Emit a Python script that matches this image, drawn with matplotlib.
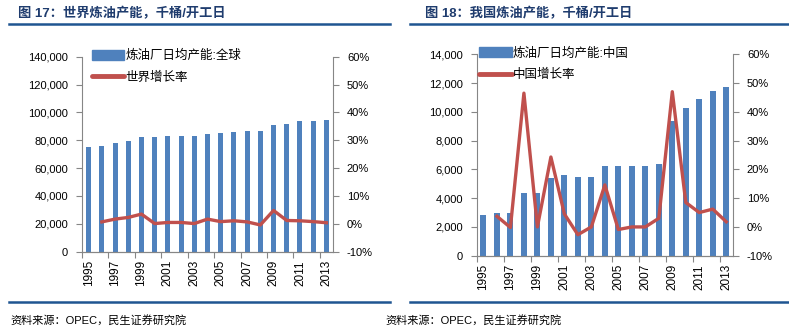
import numpy as np
import matplotlib.pyplot as plt
from matplotlib.lines import Line2D
from matplotlib.ticker import FuncFormatter, FixedLocator

plt.rcParams['font.family'] = ['Liberation Sans', 'Noto Sans CJK SC']

years = [str(y) for y in range(1995, 2014)]

# 世界炼油产能（千桶/开工日）及增长率（%）
world_capacity = [75500, 76200, 77800, 79600, 82000, 82000, 82800, 82800, 82800,
                  84600, 85300, 86200, 86900, 86900, 91000, 92000, 93700, 93700, 94500]
world_growth = [np.nan, 0.7, 1.7, 2.3, 3.5, 0.1, 0.5, 0.5, 0.1,
                1.7, 0.8, 1.1, 0.7, -0.4, 4.8, 1.2, 1.1, 0.8, 0.4]

# 中国炼油产能（千桶/开工日）及增长率（%）
china_capacity = [2850, 2990, 2990, 4330, 4330, 5370, 5600, 5440, 5440,
                  6250, 6250, 6250, 6250, 6390, 9380, 10300, 10860, 11480, 11740]
china_growth = [np.nan, 3.7, -0.2, 46.5, 0.0, 24.3, 4.5, -2.7, 0.0,
                14.6, -0.9, 0.0, 0.0, 3.0, 47.0, 8.5, 5.0, 6.2, 1.8]

BAR_COLOR = "#4F81BD"
LINE_COLOR = "#C0504D"
SPINE_COLOR = "#868686"
TITLE_COLOR = "#1F3C6E"
RULE_COLOR = "#1F5591"

W, H = 789, 335
fig = plt.figure(figsize=(W / 100, H / 100), dpi=100)


def px_axes(x0, y0, x1, y1):
    return fig.add_axes([x0 / W, 1 - y1 / H, (x1 - x0) / W, (y1 - y0) / H])


def draw_panel(ax, capacity, growth, ymax, ystep, bar_label, line_label, bar_w, leg_x):
    x = np.arange(len(years))
    ax.bar(x, capacity, width=bar_w, color=BAR_COLOR, zorder=2)
    ax.set_xlim(-0.5, len(years) - 0.5)
    ax.set_ylim(0, ymax)
    ax.set_yticks(np.arange(0, ymax + 1, ystep))
    ax.yaxis.set_major_formatter(FuncFormatter(lambda v, p: f"{int(v):,}"))

    # 刻度线放在类别分界处，年份标签隔一个显示
    ax.xaxis.set_major_locator(FixedLocator(np.arange(-0.5, len(years) - 1, 2)))
    ax.xaxis.set_minor_locator(FixedLocator(x[::2]))
    ax.set_xticklabels([], minor=False)
    ax.set_xticklabels(years[::2], minor=True, rotation=90, fontsize=8.5)
    ax.tick_params(axis='x', which='major', length=4, color=SPINE_COLOR, direction='out')
    ax.tick_params(axis='x', which='minor', length=0, pad=6)
    ax.tick_params(axis='y', length=4, color=SPINE_COLOR, labelsize=8, pad=6)

    ax2 = ax.twinx()
    ax2.plot(x, growth, color=LINE_COLOR, linewidth=2.4, zorder=3)
    ax2.set_ylim(-10, 60)
    ax2.set_yticks(np.arange(-10, 61, 10))
    ax2.yaxis.set_major_formatter(FuncFormatter(lambda v, p: f"{int(v)}%"))
    ax2.tick_params(axis='y', length=4, color=SPINE_COLOR, labelsize=8, pad=6)

    for a in (ax, ax2):
        a.spines['top'].set_visible(False)
        for s in ('left', 'right', 'bottom'):
            a.spines[s].set_color(SPINE_COLOR)
            a.spines[s].set_linewidth(0.8)
    ax2.spines['left'].set_visible(False)
    ax.spines['right'].set_visible(False)

    handles = [
        plt.Rectangle((0, 0), 1, 1, color=BAR_COLOR),
        Line2D([0], [0], color=LINE_COLOR, linewidth=3.5, solid_capstyle='round'),
    ]
    ax2.legend(handles, [bar_label, line_label], loc='upper left',
               bbox_to_anchor=(leg_x, 1.035), frameon=False, fontsize=9,
               handlelength=2.6, handleheight=0.8, handletextpad=0.1,
               labelspacing=0.75, borderpad=0, borderaxespad=0)


ax_l = px_axes(82, 56.7, 333, 251.7)
draw_panel(ax_l, world_capacity, world_growth, 140000, 20000,
           "炼油厂日均产能:全球", "世界增长率", 0.38, 0.038)

ax_r = px_axes(476.7, 54.3, 733, 255.7)
draw_panel(ax_r, china_capacity, china_growth, 14000, 2000,
           "炼油厂日均产能:中国", "中国增长率", 0.45, 0.01)

# 标题、分隔线和资料来源
fig.text(18 / W, 1 - 14 / H, "图 17：世界炼油产能，千桶/开工日", fontsize=9.5,
         fontweight='bold', color=TITLE_COLOR, va='center', ha='left')
fig.text(425 / W, 1 - 14 / H, "图 18：我国炼油产能，千桶/开工日", fontsize=9.5,
         fontweight='bold', color=TITLE_COLOR, va='center', ha='left')

for x0, x1 in ((9, 390), (410, 789)):
    fig.add_artist(Line2D([x0 / W, x1 / W], [1 - 24 / H] * 2, color=RULE_COLOR,
                          linewidth=1.8, transform=fig.transFigure))
    fig.add_artist(Line2D([x0 / W, x1 / W], [1 - 301.5 / H] * 2, color=RULE_COLOR,
                          linewidth=1.8, transform=fig.transFigure))

fig.text(10 / W, 1 - 320 / H, "资料来源：OPEC，民生证券研究院", fontsize=8,
         color='black', va='center', ha='left')
fig.text(385 / W, 1 - 320 / H, "资料来源：OPEC，民生证券研究院", fontsize=8,
         color='black', va='center', ha='left')

fig.savefig("out.png", dpi=100)
